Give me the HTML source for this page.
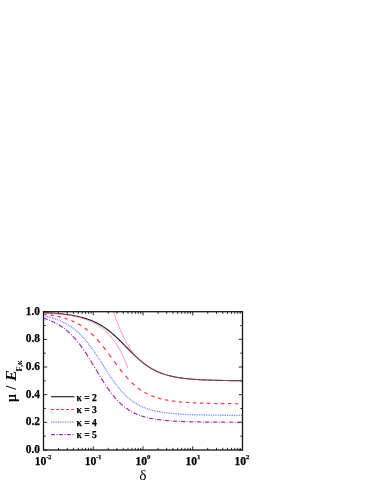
<!DOCTYPE html>
<html><head><meta charset="utf-8"><title>chart</title>
<style>
html,body{margin:0;padding:0;background:#fff;}
body{width:374px;height:484px;position:relative;overflow:hidden;font-family:"Liberation Serif",serif;color:#000;}
.t,.lg{-webkit-text-stroke:0.25px #000;}
.t{position:absolute;font-weight:bold;font-size:12px;line-height:12px;white-space:nowrap;}
.yl{text-align:right;width:30px;transform-origin:100% 50%;transform:scaleX(0.95);}
.xl{text-align:center;width:40px;transform:scaleX(0.97);}
.xl sup{font-size:7.5px;line-height:0;vertical-align:baseline;position:relative;top:-5.6px;}
.lg{position:absolute;font-weight:bold;font-size:9.6px;line-height:10px;white-space:nowrap;}
</style></head><body>
<svg width="374" height="484" viewBox="0 0 374 484" style="position:absolute;left:0;top:0">
<defs><clipPath id="c"><rect x="43.5" y="311.7" width="199.0" height="138.3"/></clipPath></defs>
<path d="M43.5,450.00h3.7M242.5,450.00h-3.7M43.5,436.17h2.15M242.5,436.17h-2.15M43.5,422.34h3.7M242.5,422.34h-3.7M43.5,408.51h2.15M242.5,408.51h-2.15M43.5,394.68h3.7M242.5,394.68h-3.7M43.5,380.85h2.15M242.5,380.85h-2.15M43.5,367.02h3.7M242.5,367.02h-3.7M43.5,353.19h2.15M242.5,353.19h-2.15M43.5,339.36h3.7M242.5,339.36h-3.7M43.5,325.53h2.15M242.5,325.53h-2.15M43.5,311.70h3.7M242.5,311.70h-3.7M43.50,450.0v-3.7M43.50,311.7v3.7M58.48,450.0v-2.15M58.48,311.7v2.15M67.24,450.0v-2.15M67.24,311.7v2.15M73.45,450.0v-2.15M73.45,311.7v2.15M78.27,450.0v-2.15M78.27,311.7v2.15M82.21,450.0v-2.15M82.21,311.7v2.15M85.54,450.0v-2.15M85.54,311.7v2.15M88.43,450.0v-2.15M88.43,311.7v2.15M90.97,450.0v-2.15M90.97,311.7v2.15M93.25,450.0v-3.7M93.25,311.7v3.7M108.23,450.0v-2.15M108.23,311.7v2.15M116.99,450.0v-2.15M116.99,311.7v2.15M123.20,450.0v-2.15M123.20,311.7v2.15M128.02,450.0v-2.15M128.02,311.7v2.15M131.96,450.0v-2.15M131.96,311.7v2.15M135.29,450.0v-2.15M135.29,311.7v2.15M138.18,450.0v-2.15M138.18,311.7v2.15M140.72,450.0v-2.15M140.72,311.7v2.15M143.00,450.0v-3.7M143.00,311.7v3.7M157.98,450.0v-2.15M157.98,311.7v2.15M166.74,450.0v-2.15M166.74,311.7v2.15M172.95,450.0v-2.15M172.95,311.7v2.15M177.77,450.0v-2.15M177.77,311.7v2.15M181.71,450.0v-2.15M181.71,311.7v2.15M185.04,450.0v-2.15M185.04,311.7v2.15M187.93,450.0v-2.15M187.93,311.7v2.15M190.47,450.0v-2.15M190.47,311.7v2.15M192.75,450.0v-3.7M192.75,311.7v3.7M207.73,450.0v-2.15M207.73,311.7v2.15M216.49,450.0v-2.15M216.49,311.7v2.15M222.70,450.0v-2.15M222.70,311.7v2.15M227.52,450.0v-2.15M227.52,311.7v2.15M231.46,450.0v-2.15M231.46,311.7v2.15M234.79,450.0v-2.15M234.79,311.7v2.15M237.68,450.0v-2.15M237.68,311.7v2.15M240.22,450.0v-2.15M240.22,311.7v2.15M242.50,450.0v-3.7M242.50,311.7v3.7" stroke="#111" stroke-width="0.9" fill="none"/>
<g clip-path="url(#c)" fill="none">
<path d="M43.50,312.66 L44.33,312.69 L45.17,312.73 L46.00,312.77 L46.83,312.82 L47.66,312.86 L48.50,312.91 L49.33,312.95 L50.16,313.00 L50.99,313.06 L51.83,313.11 L52.66,313.16 L53.49,313.22 L54.32,313.28 L55.16,313.35 L55.99,313.41 L56.82,313.48 L57.65,313.55 L58.49,313.62 L59.32,313.70 L60.15,313.78 L60.99,313.86 L61.82,313.94 L62.65,314.03 L63.48,314.13 L64.32,314.22 L65.15,314.32 L65.98,314.43 L66.81,314.53 L67.65,314.65 L68.48,314.76 L69.31,314.89 L70.14,315.01 L70.98,315.14 L71.81,315.28 L72.64,315.42 L73.47,315.57 L74.31,315.72 L75.14,315.88 L75.97,316.05 L76.81,316.22 L77.64,316.40 L78.47,316.58 L79.30,316.78 L80.14,316.98 L80.97,317.19 L81.80,317.40 L82.63,317.63 L83.47,317.86 L84.30,318.10 L85.13,318.36 L85.96,318.62 L86.80,318.89 L87.63,319.17 L88.46,319.46 L89.29,319.76 L90.13,320.08 L90.96,320.40 L91.79,320.74 L92.63,321.09 L93.46,321.45 L94.29,321.83 L95.12,322.22 L95.96,322.62 L96.79,323.03 L97.62,323.46 L98.45,323.91 L99.29,324.37 L100.12,324.84 L100.95,325.33 L101.78,325.83 L102.62,326.35 L103.45,326.89 L104.28,327.44 L105.12,328.01 L105.95,328.59 L106.78,329.19 L107.61,329.81 L108.45,330.44 L109.28,331.09 L110.11,331.75 L110.94,332.43 L111.78,333.12 L112.61,333.83 L113.44,334.55 L114.27,335.29 L115.11,336.04 L115.94,336.80 L116.77,337.57 L117.60,338.36 L118.44,339.16 L119.27,339.97 L120.10,340.78 L120.94,341.61 L121.77,342.44 L122.60,343.27 L123.43,344.12 L124.27,344.96 L125.10,345.81 L125.93,346.66 L126.76,347.52 L127.60,348.37 L128.43,349.22 L129.26,350.06 L130.09,350.91 L130.93,351.74 L131.76,352.57 L132.59,353.40 L133.42,354.21 L134.26,355.02 L135.09,355.82 L135.92,356.60 L136.76,357.38 L137.59,358.14 L138.42,358.88 L139.25,359.62 L140.09,360.34 L140.92,361.04 L141.75,361.73 L142.58,362.40 L143.42,363.05 L144.25,363.69 L145.08,364.32 L145.91,364.92 L146.75,365.51 L147.58,366.08 L148.41,366.64 L149.24,367.17 L150.08,367.69 L150.91,368.20 L151.74,368.69 L152.58,369.16 L153.41,369.61 L154.24,370.05 L155.07,370.48 L155.91,370.89 L156.74,371.28 L157.57,371.66 L158.40,372.03 L159.24,372.38 L160.07,372.72 L160.90,373.05 L161.73,373.36 L162.57,373.66 L163.40,373.95 L164.23,374.23 L165.06,374.50 L165.90,374.75 L166.73,375.00 L167.56,375.24 L168.40,375.46 L169.23,375.68 L170.06,375.89 L170.89,376.09 L171.73,376.28 L172.56,376.47 L173.39,376.65 L174.22,376.82 L175.06,376.98 L175.89,377.13 L176.72,377.28 L177.55,377.43 L178.39,377.56 L179.22,377.70 L180.05,377.82 L180.88,377.94 L181.72,378.06 L182.55,378.17 L183.38,378.28 L184.22,378.38 L185.05,378.48 L185.88,378.57 L186.71,378.66 L187.55,378.75 L188.38,378.83 L189.21,378.91 L190.04,378.99 L190.88,379.06 L191.71,379.14 L192.54,379.20 L193.37,379.27 L194.21,379.33 L195.04,379.39 L195.87,379.45 L196.71,379.50 L197.54,379.55 L198.37,379.61 L199.20,379.65 L200.04,379.70 L200.87,379.75 L201.70,379.79 L202.53,379.83 L203.37,379.87 L204.20,379.91 L205.03,379.94 L205.86,379.98 L206.70,380.01 L207.53,380.05 L208.36,380.08 L209.19,380.11 L210.03,380.14 L210.86,380.16 L211.69,380.19 L212.53,380.22 L213.36,380.24 L214.19,380.26 L215.02,380.29 L215.86,380.31 L216.69,380.33 L217.52,380.35 L218.35,380.37 L219.19,380.39 L220.02,380.40 L220.85,380.42 L221.68,380.44 L222.52,380.45 L223.35,380.47 L224.18,380.48 L225.01,380.50 L225.85,380.51 L226.68,380.52 L227.51,380.54 L228.35,380.55 L229.18,380.56 L230.01,380.57 L230.84,380.58 L231.68,380.59 L232.51,380.60 L233.34,380.61 L234.17,380.62 L235.01,380.63 L235.84,380.64 L236.67,380.65 L237.50,380.65 L238.34,380.66 L239.17,380.67 L240.00,380.67 L240.83,380.68 L241.67,380.69 L242.50,380.69" stroke="#222222" stroke-width="1.15"/>
<path d="M43.50,314.12 L43.98,314.18 L44.47,314.24 L44.95,314.29 L45.44,314.35 L45.92,314.41 L46.41,314.48 L46.89,314.54M50.48,315.06 L50.96,315.13 L51.45,315.21 L51.93,315.29 L52.42,315.38 L52.90,315.46 L53.38,315.55 L53.87,315.63M57.44,316.35 L57.93,316.46 L58.41,316.56 L58.89,316.68 L59.37,316.79 L59.85,316.90 L60.33,317.02 L60.81,317.14M64.37,318.13 L64.85,318.27 L65.33,318.42 L65.81,318.57 L66.29,318.73 L66.76,318.89 L67.24,319.05 L67.72,319.21M71.24,320.55 L71.71,320.75 L72.19,320.95 L72.66,321.15 L73.13,321.36 L73.60,321.57 L74.07,321.79 L74.54,322.01M78.00,323.79 L78.47,324.05 L78.93,324.31 L79.39,324.58 L79.86,324.85 L80.32,325.13 L80.78,325.41 L81.23,325.70M84.60,327.99 L85.05,328.32 L85.50,328.65 L85.95,328.99 L86.39,329.33 L86.84,329.68 L87.28,330.04 L87.73,330.40M90.97,333.21 L91.40,333.61 L91.83,334.01 L92.26,334.42 L92.69,334.83 L93.12,335.25 L93.54,335.67 L93.97,336.09M97.07,339.37 L97.49,339.83 L97.90,340.29 L98.31,340.76 L98.72,341.23 L99.13,341.70 L99.54,342.18 L99.94,342.66M102.92,346.30 L103.32,346.80 L103.72,347.30 L104.11,347.81 L104.51,348.32 L104.90,348.83 L105.29,349.34 L105.69,349.85M108.58,353.71 L108.97,354.23 L109.36,354.76 L109.74,355.29 L110.13,355.81 L110.52,356.34 L110.91,356.87 L111.29,357.40M114.16,361.32 L114.54,361.85 L114.93,362.38 L115.32,362.91 L115.71,363.43 L116.09,363.96 L116.48,364.48 L116.87,365.01M119.77,368.85 L120.17,369.36 L120.56,369.87 L120.96,370.37 L121.35,370.88 L121.75,371.38 L122.15,371.88 L122.55,372.38M125.54,375.97 L125.95,376.44 L126.36,376.91 L126.77,377.38 L127.19,377.84 L127.60,378.30 L128.02,378.75 L128.43,379.20M131.56,382.40 L131.99,382.81 L132.42,383.22 L132.85,383.62 L133.28,384.02 L133.72,384.41 L134.15,384.80 L134.59,385.19M137.87,387.87 L138.32,388.21 L138.76,388.54 L139.21,388.87 L139.67,389.19 L140.12,389.51 L140.57,389.82 L141.03,390.13M144.43,392.24 L144.89,392.51 L145.36,392.76 L145.82,393.02 L146.29,393.26 L146.75,393.51 L147.22,393.74 L147.69,393.98M151.18,395.56 L151.65,395.75 L152.13,395.94 L152.60,396.13 L153.08,396.31 L153.55,396.49 L154.03,396.66 L154.51,396.83M158.05,397.98 L158.53,398.12 L159.01,398.25 L159.49,398.39 L159.97,398.52 L160.45,398.65 L160.93,398.77 L161.41,398.89M164.98,399.70 L165.46,399.80 L165.95,399.90 L166.43,399.99 L166.91,400.08 L167.40,400.17 L167.88,400.26 L168.36,400.35M171.95,400.92 L172.43,400.99 L172.92,401.06 L173.40,401.12 L173.89,401.19 L174.37,401.25 L174.85,401.31 L175.34,401.38M178.93,401.78 L179.42,401.83 L179.90,401.88 L180.39,401.92 L180.87,401.97 L181.36,402.01 L181.84,402.06 L182.33,402.10M185.92,402.39 L186.41,402.42 L186.89,402.45 L187.38,402.49 L187.87,402.52 L188.35,402.55 L188.84,402.58 L189.32,402.61M192.92,402.82 L193.41,402.84 L193.89,402.86 L194.38,402.89 L194.86,402.91 L195.35,402.93 L195.83,402.96 L196.32,402.98M199.92,403.12 L200.40,403.14 L200.89,403.16 L201.37,403.17 L201.86,403.19 L202.35,403.21 L202.83,403.22 L203.32,403.24M206.92,403.34 L207.40,403.35 L207.89,403.37 L208.37,403.38 L208.86,403.39 L209.35,403.40 L209.83,403.41 L210.32,403.42M213.92,403.50 L214.40,403.51 L214.89,403.51 L215.37,403.52 L215.86,403.53 L216.34,403.54 L216.83,403.55 L217.32,403.56M220.92,403.61 L221.40,403.62 L221.89,403.62 L222.37,403.63 L222.86,403.63 L223.34,403.64 L223.83,403.65 L224.32,403.65M227.92,403.69 L228.40,403.69 L228.89,403.70 L229.37,403.70 L229.86,403.71 L230.34,403.71 L230.83,403.72 L231.32,403.72M234.92,403.75 L235.40,403.75 L235.89,403.76 L236.37,403.76 L236.86,403.76 L237.34,403.76 L237.83,403.77 L238.32,403.77M241.92,403.79 L242.21,403.79 L242.50,403.79" stroke="#ff3434" stroke-width="1.2"/>
<path d="M43.50,315.83 L44.33,316.00 L45.17,316.17 L46.00,316.35 L46.83,316.53 L47.66,316.73 L48.50,316.93 L49.33,317.14 L50.16,317.35 L50.99,317.58 L51.83,317.81 L52.66,318.06 L53.49,318.31 L54.32,318.58 L55.16,318.85 L55.99,319.14 L56.82,319.43 L57.65,319.74 L58.49,320.06 L59.32,320.39 L60.15,320.74 L60.99,321.10 L61.82,321.47 L62.65,321.86 L63.48,322.27 L64.32,322.69 L65.15,323.12 L65.98,323.57 L66.81,324.04 L67.65,324.53 L68.48,325.03 L69.31,325.55 L70.14,326.10 L70.98,326.66 L71.81,327.24 L72.64,327.84 L73.47,328.47 L74.31,329.11 L75.14,329.78 L75.97,330.47 L76.81,331.19 L77.64,331.93 L78.47,332.69 L79.30,333.47 L80.14,334.28 L80.97,335.12 L81.80,335.98 L82.63,336.87 L83.47,337.78 L84.30,338.71 L85.13,339.67 L85.96,340.66 L86.80,341.67 L87.63,342.70 L88.46,343.76 L89.29,344.84 L90.13,345.95 L90.96,347.07 L91.79,348.22 L92.63,349.39 L93.46,350.58 L94.29,351.78 L95.12,353.00 L95.96,354.24 L96.79,355.50 L97.62,356.76 L98.45,358.04 L99.29,359.32 L100.12,360.62 L100.95,361.92 L101.78,363.22 L102.62,364.53 L103.45,365.84 L104.28,367.15 L105.12,368.45 L105.95,369.75 L106.78,371.05 L107.61,372.33 L108.45,373.61 L109.28,374.87 L110.11,376.12 L110.94,377.35 L111.78,378.57 L112.61,379.77 L113.44,380.95 L114.27,382.11 L115.11,383.25 L115.94,384.36 L116.77,385.45 L117.60,386.52 L118.44,387.56 L119.27,388.58 L120.10,389.57 L120.94,390.54 L121.77,391.47 L122.60,392.38 L123.43,393.27 L124.27,394.13 L125.10,394.96 L125.93,395.76 L126.76,396.54 L127.60,397.29 L128.43,398.01 L129.26,398.71 L130.09,399.39 L130.93,400.04 L131.76,400.67 L132.59,401.27 L133.42,401.85 L134.26,402.41 L135.09,402.95 L135.92,403.46 L136.76,403.96 L137.59,404.43 L138.42,404.89 L139.25,405.33 L140.09,405.75 L140.92,406.15 L141.75,406.54 L142.58,406.91 L143.42,407.26 L144.25,407.60 L145.08,407.93 L145.91,408.24 L146.75,408.54 L147.58,408.82 L148.41,409.10 L149.24,409.36 L150.08,409.61 L150.91,409.85 L151.74,410.08 L152.58,410.30 L153.41,410.51 L154.24,410.72 L155.07,410.91 L155.91,411.10 L156.74,411.27 L157.57,411.44 L158.40,411.61 L159.24,411.76 L160.07,411.91 L160.90,412.05 L161.73,412.19 L162.57,412.32 L163.40,412.45 L164.23,412.57 L165.06,412.68 L165.90,412.79 L166.73,412.90 L167.56,413.00 L168.40,413.10 L169.23,413.19 L170.06,413.28 L170.89,413.36 L171.73,413.45 L172.56,413.53 L173.39,413.60 L174.22,413.67 L175.06,413.74 L175.89,413.81 L176.72,413.87 L177.55,413.93 L178.39,413.99 L179.22,414.05 L180.05,414.10 L180.88,414.16 L181.72,414.20 L182.55,414.25 L183.38,414.30 L184.22,414.34 L185.05,414.38 L185.88,414.43 L186.71,414.46 L187.55,414.50 L188.38,414.54 L189.21,414.57 L190.04,414.60 L190.88,414.64 L191.71,414.67 L192.54,414.70 L193.37,414.72 L194.21,414.75 L195.04,414.78 L195.87,414.80 L196.71,414.83 L197.54,414.85 L198.37,414.87 L199.20,414.89 L200.04,414.91 L200.87,414.93 L201.70,414.95 L202.53,414.97 L203.37,414.99 L204.20,415.00 L205.03,415.02 L205.86,415.04 L206.70,415.05 L207.53,415.07 L208.36,415.08 L209.19,415.09 L210.03,415.11 L210.86,415.12 L211.69,415.13 L212.53,415.14 L213.36,415.15 L214.19,415.16 L215.02,415.17 L215.86,415.18 L216.69,415.19 L217.52,415.20 L218.35,415.21 L219.19,415.22 L220.02,415.22 L220.85,415.23 L221.68,415.24 L222.52,415.25 L223.35,415.25 L224.18,415.26 L225.01,415.27 L225.85,415.27 L226.68,415.28 L227.51,415.28 L228.35,415.29 L229.18,415.29 L230.01,415.30 L230.84,415.30 L231.68,415.31 L232.51,415.31 L233.34,415.32 L234.17,415.32 L235.01,415.33 L235.84,415.33 L236.67,415.33 L237.50,415.34 L238.34,415.34 L239.17,415.34 L240.00,415.35 L240.83,415.35 L241.67,415.35 L242.50,415.35" stroke="#5c6cff" stroke-width="1.3" stroke-dasharray="0.8,0.95"/>
<path d="M43.50,318.17 L43.97,318.31 L44.44,318.46 L44.90,318.60 L45.37,318.76 L45.84,318.91 L46.30,319.07 L46.77,319.23 L47.23,319.39 L47.70,319.56M49.10,320.09 L49.49,320.24 L49.88,320.40M51.27,320.98 L51.73,321.18 L52.19,321.38 L52.65,321.59 L53.11,321.80 L53.56,322.02 L54.02,322.24 L54.47,322.46 L54.92,322.69 L55.38,322.92M56.74,323.65 L57.12,323.86 L57.49,324.07M58.84,324.86 L59.28,325.13 L59.73,325.40 L60.17,325.68 L60.61,325.96 L61.04,326.25 L61.48,326.54 L61.91,326.84 L62.35,327.14 L62.78,327.44M64.08,328.40 L64.44,328.67 L64.80,328.94M66.08,329.96 L66.50,330.31 L66.91,330.66 L67.33,331.01 L67.74,331.37 L68.15,331.73 L68.56,332.10 L68.97,332.47 L69.38,332.85 L69.79,333.23M71.00,334.40 L71.34,334.73 L71.67,335.07M72.86,336.30 L73.25,336.72 L73.64,337.14 L74.03,337.56 L74.41,337.99 L74.79,338.41 L75.17,338.85 L75.55,339.28 L75.93,339.72 L76.31,340.17M77.44,341.53 L77.74,341.91 L78.05,342.30M79.16,343.70 L79.52,344.17 L79.88,344.64 L80.24,345.12 L80.59,345.60 L80.95,346.08 L81.30,346.56 L81.65,347.04 L82.00,347.53 L82.35,348.02M83.40,349.52 L83.69,349.93 L83.98,350.35M85.01,351.88 L85.35,352.38 L85.69,352.89 L86.02,353.40 L86.36,353.91 L86.69,354.42 L87.03,354.94 L87.36,355.45 L87.69,355.97 L88.02,356.49M89.02,358.07 L89.29,358.51 L89.56,358.94M90.55,360.54 L90.87,361.06 L91.20,361.59 L91.52,362.12 L91.84,362.65 L92.16,363.18 L92.49,363.71 L92.81,364.24 L93.13,364.77 L93.45,365.30M94.42,366.92 L94.69,367.36 L94.95,367.81M95.92,369.43 L96.24,369.96 L96.56,370.49 L96.88,371.03 L97.20,371.56 L97.52,372.09 L97.84,372.62 L98.16,373.15 L98.48,373.69 L98.80,374.22M99.78,375.83 L100.05,376.27 L100.32,376.71M101.30,378.31 L101.63,378.84 L101.95,379.36 L102.28,379.88 L102.61,380.40 L102.93,380.93 L103.26,381.45 L103.59,381.96 L103.92,382.48 L104.25,383.00M105.27,384.56 L105.55,384.98 L105.83,385.41M106.86,386.94 L107.20,387.44 L107.54,387.94 L107.89,388.44 L108.23,388.94 L108.58,389.43 L108.93,389.92 L109.28,390.41 L109.63,390.89 L109.98,391.38M111.06,392.83 L111.36,393.22 L111.66,393.62M112.77,395.03 L113.13,395.49 L113.50,395.94 L113.87,396.39 L114.25,396.84 L114.62,397.29 L115.00,397.73 L115.38,398.16 L115.76,398.60 L116.14,399.03M117.31,400.31 L117.64,400.65 L117.97,401.00M119.17,402.22 L119.57,402.61 L119.97,403.00 L120.37,403.38 L120.78,403.76 L121.18,404.13 L121.59,404.50 L122.01,404.87 L122.42,405.23 L122.83,405.58M124.10,406.63 L124.46,406.91 L124.81,407.19M126.11,408.16 L126.54,408.47 L126.97,408.77 L127.41,409.07 L127.84,409.37 L128.28,409.66 L128.72,409.94 L129.16,410.22 L129.60,410.49 L130.04,410.76M131.39,411.55 L131.77,411.76 L132.15,411.96M133.52,412.68 L133.97,412.90 L134.42,413.12 L134.88,413.34 L135.34,413.55 L135.79,413.76 L136.25,413.96 L136.71,414.16 L137.17,414.35 L137.63,414.54M139.03,415.09 L139.42,415.23 L139.81,415.38M141.22,415.87 L141.69,416.02 L142.16,416.17 L142.62,416.32 L143.09,416.47 L143.56,416.61 L144.03,416.74 L144.50,416.88 L144.97,417.01 L145.44,417.14M146.87,417.50 L147.26,417.60 L147.66,417.70M149.09,418.02 L149.56,418.13 L150.04,418.23 L150.51,418.33 L150.98,418.42 L151.46,418.52 L151.93,418.61 L152.41,418.69 L152.88,418.78 L153.35,418.87M154.80,419.11 L155.19,419.17 L155.59,419.24M157.03,419.45 L157.51,419.52 L157.99,419.59 L158.46,419.65 L158.94,419.72 L159.41,419.78 L159.89,419.84 L160.37,419.90 L160.84,419.95 L161.32,420.01M162.76,420.17 L163.16,420.21 L163.56,420.25M165.01,420.40 L165.49,420.44 L165.96,420.49 L166.44,420.53 L166.92,420.57 L167.39,420.61 L167.87,420.65 L168.35,420.69 L168.82,420.73 L169.30,420.77M170.75,420.87 L171.15,420.90 L171.55,420.93M173.00,421.03 L173.47,421.06 L173.95,421.09 L174.43,421.11 L174.91,421.14 L175.38,421.17 L175.86,421.20 L176.34,421.22 L176.82,421.25 L177.29,421.27M178.74,421.34 L179.14,421.36 L179.54,421.38M180.99,421.45 L181.47,421.47 L181.95,421.49 L182.43,421.50 L182.90,421.52 L183.38,421.54 L183.86,421.56 L184.34,421.58 L184.81,421.59 L185.29,421.61M186.74,421.66 L187.14,421.67 L187.54,421.69M188.99,421.73 L189.47,421.74 L189.95,421.76 L190.42,421.77 L190.90,421.78 L191.38,421.79 L191.86,421.81 L192.33,421.82 L192.81,421.83 L193.29,421.84M194.74,421.87 L195.14,421.88 L195.54,421.89M196.99,421.92 L197.47,421.93 L197.94,421.94 L198.42,421.95 L198.90,421.96 L199.38,421.97 L199.86,421.97 L200.33,421.98 L200.81,421.99 L201.29,422.00M202.74,422.02 L203.14,422.03 L203.54,422.03M204.99,422.05 L205.47,422.06 L205.94,422.07 L206.42,422.07 L206.90,422.08 L207.38,422.08 L207.86,422.09 L208.33,422.09 L208.81,422.10 L209.29,422.10M210.74,422.12 L211.14,422.12 L211.54,422.13M212.99,422.14 L213.47,422.15 L213.94,422.15 L214.42,422.16 L214.90,422.16 L215.38,422.16 L215.86,422.17 L216.33,422.17 L216.81,422.17 L217.29,422.18M218.74,422.19 L219.14,422.19 L219.54,422.19M220.99,422.20 L221.47,422.21 L221.94,422.21 L222.42,422.21 L222.90,422.22 L223.38,422.22 L223.86,422.22 L224.33,422.22 L224.81,422.23 L225.29,422.23M226.74,422.24 L227.14,422.24 L227.54,422.24M228.99,422.25 L229.47,422.25 L229.94,422.25 L230.42,422.25 L230.90,422.25 L231.38,422.26 L231.85,422.26 L232.33,422.26 L232.81,422.26 L233.29,422.26M234.74,422.27 L235.14,422.27 L235.54,422.27M236.99,422.28 L237.47,422.28 L237.94,422.28 L238.42,422.28 L238.90,422.28 L239.38,422.28 L239.85,422.28 L240.33,422.28 L240.81,422.29 L241.29,422.29" stroke="#9c32aa" stroke-width="1.2"/>
<path d="M43.50,312.78 L44.21,312.82 L44.92,312.86 L45.63,312.90 L46.34,312.94 L47.05,312.98 L47.76,313.02 L48.47,313.06 L49.18,313.11 L49.89,313.16 L50.60,313.21 L51.31,313.26 L52.02,313.31 L52.73,313.36 L53.44,313.42 L54.15,313.47 L54.86,313.53 L55.57,313.60 L56.29,313.66 L57.00,313.72 L57.71,313.79 L58.42,313.86 L59.13,313.93 L59.84,314.01 L60.55,314.09 L61.26,314.17 L61.97,314.25 L62.68,314.34 L63.39,314.42 L64.10,314.51 L64.81,314.61 L65.52,314.71 L66.23,314.81 L66.94,314.91 L67.65,315.02 L68.36,315.13 L69.07,315.25 L69.78,315.36 L70.49,315.49 L71.20,315.61 L71.91,315.75 L72.62,315.88 L73.33,316.02 L74.04,316.17 L74.75,316.32 L75.46,316.47 L76.17,316.63 L76.88,316.80 L77.59,316.97 L78.30,317.14 L79.01,317.33 L79.72,317.52 L80.43,317.71 L81.15,317.91 L81.86,318.12 L82.57,318.34 L83.28,318.56 L83.99,318.79 L84.70,319.03 L85.41,319.28 L86.12,319.53 L86.83,319.80 L87.54,320.07 L88.25,320.35 L88.96,320.64 L89.67,320.94 L90.38,321.25 L91.09,321.58 L91.80,321.91 L92.51,322.25 L93.22,322.61 L93.93,322.98 L94.64,323.36 L95.35,323.75 L96.06,324.16 L96.77,324.58 L97.48,325.02 L98.19,325.47 L98.90,325.93 L99.61,326.41 L100.32,326.91 L101.03,327.43 L101.74,327.96 L102.45,328.51 L103.16,329.08 L103.87,329.67 L104.58,330.28 L105.29,330.91 L106.00,331.57 L106.72,332.24 L107.43,332.94 L108.14,333.66 L108.85,334.41 L109.56,335.19 L110.27,335.99 L110.98,336.81 L111.69,337.67 L112.40,338.56 L113.11,339.48 L113.82,340.43 L114.53,341.41 L115.24,342.43 L115.95,343.49 L116.66,344.58 L117.37,345.71 L118.08,346.88 L118.79,348.09 L119.50,349.34 L120.21,350.64 L120.92,351.99 L121.63,353.38 L122.34,354.82 L123.05,356.31 L123.76,357.86 L124.47,359.46 L125.18,361.13 L125.89,362.85 L126.60,364.63 L127.31,366.48 L128.02,368.39" stroke="#ff5aaa" stroke-width="0.7"/>
<path d="M108.23,291.85 L108.48,292.88 L108.73,293.90 L108.98,294.91 L109.23,295.91 L109.48,296.89 L109.74,297.86 L109.99,298.82 L110.24,299.77 L110.49,300.71 L110.74,301.64 L110.99,302.56 L111.25,303.46 L111.50,304.36 L111.75,305.25 L112.00,306.12 L112.25,306.99 L112.51,307.84 L112.76,308.69 L113.01,309.52 L113.26,310.35 L113.51,311.17 L113.76,311.97 L114.02,312.77 L114.27,313.56 L114.52,314.34 L114.77,315.11 L115.02,315.87 L115.27,316.62 L115.53,317.37 L115.78,318.10 L116.03,318.83 L116.28,319.55 L116.53,320.26 L116.78,320.96 L117.04,321.65 L117.29,322.34 L117.54,323.02 L117.79,323.69 L118.04,324.35 L118.29,325.00 L118.55,325.65 L118.80,326.29 L119.05,326.92 L119.30,327.55 L119.55,328.16 L119.80,328.77 L120.06,329.38 L120.31,329.97 L120.56,330.56 L120.81,331.14 L121.06,331.72 L121.31,332.29 L121.57,332.85 L121.82,333.41 L122.07,333.96 L122.32,334.50 L122.57,335.04 L122.82,335.57 L123.08,336.09 L123.33,336.61 L123.58,337.12 L123.83,337.63 L124.08,338.13 L124.34,338.62 L124.59,339.11 L124.84,339.60 L125.09,340.07 L125.34,340.55 L125.59,341.01 L125.85,341.48 L126.10,341.93 L126.35,342.38 L126.60,342.83 L126.85,343.27 L127.10,343.70 L127.36,344.13 L127.61,344.56 L127.86,344.98 L128.11,345.39 L128.36,345.81 L128.61,346.22 L128.87,346.63 L129.12,347.04 L129.37,347.45 L129.62,347.85 L129.87,348.25 L130.12,348.65 L130.38,349.04 L130.63,349.43 L130.88,349.81 L131.13,350.19 L131.38,350.56 L131.63,350.93 L131.89,351.29 L132.14,351.65 L132.39,352.00 L132.64,352.34 L132.89,352.68 L133.14,353.02 L133.40,353.35 L133.65,353.67 L133.90,353.99 L134.15,354.30 L134.40,354.61 L134.65,354.91 L134.91,355.21 L135.16,355.50 L135.41,355.78 L135.66,356.07 L135.91,356.34 L136.17,356.62 L136.42,356.88 L136.67,357.15 L136.92,357.41 L137.17,357.66 L137.42,357.91 L137.68,358.16 L137.93,358.40 L138.18,358.64" stroke="#ff5aaa" stroke-width="0.7"/>
<path d="M138.18,358.64 L139.06,359.46 L139.93,360.23 L140.81,360.98 L141.69,361.70 L142.56,362.40 L143.44,363.08 L144.32,363.75 L145.19,364.40 L146.07,365.03 L146.95,365.65 L147.82,366.24 L148.70,366.82 L149.58,367.38 L150.45,367.92 L151.33,368.45 L152.21,368.95 L153.08,369.44 L153.96,369.91 L154.84,370.36 L155.71,370.79 L156.59,371.21 L157.47,371.61 L158.34,372.00 L159.22,372.37 L160.09,372.73 L160.97,373.07 L161.85,373.40 L162.72,373.72 L163.60,374.02 L164.48,374.31 L165.35,374.59 L166.23,374.85 L167.11,375.11 L167.98,375.35 L168.86,375.59 L169.74,375.81 L170.61,376.03 L171.49,376.23 L172.37,376.43 L173.24,376.61 L174.12,376.79 L175.00,376.97 L175.87,377.13 L176.75,377.29 L177.63,377.44 L178.50,377.58 L179.38,377.72 L180.26,377.85 L181.13,377.98 L182.01,378.10 L182.89,378.22 L183.76,378.33 L184.64,378.43 L185.52,378.53 L186.39,378.63 L187.27,378.72 L188.15,378.81 L189.02,378.90 L189.90,378.98 L190.78,379.06 L191.65,379.13 L192.53,379.20 L193.41,379.27 L194.28,379.34 L195.16,379.40 L196.04,379.46 L196.91,379.52 L197.79,379.57 L198.67,379.62 L199.54,379.67 L200.42,379.72 L201.30,379.77 L202.17,379.81 L203.05,379.85 L203.93,379.90 L204.80,379.93 L205.68,379.97 L206.56,380.01 L207.43,380.04 L208.31,380.07 L209.19,380.11 L210.06,380.14 L210.94,380.17 L211.82,380.19 L212.69,380.22 L213.57,380.25 L214.45,380.27 L215.32,380.29 L216.20,380.32 L217.08,380.34 L217.95,380.36 L218.83,380.38 L219.71,380.40 L220.58,380.42 L221.46,380.43 L222.34,380.45 L223.21,380.47 L224.09,380.48 L224.97,380.50 L225.84,380.51 L226.72,380.52 L227.60,380.54 L228.47,380.55 L229.35,380.56 L230.23,380.57 L231.10,380.58 L231.98,380.60 L232.86,380.61 L233.73,380.62 L234.61,380.62 L235.49,380.63 L236.36,380.64 L237.24,380.65 L238.12,380.66 L238.99,380.67 L239.87,380.67 L240.75,380.68 L241.62,380.69 L242.50,380.69" stroke="#ff5aaa" stroke-width="0.55"/>
</g>
<rect x="43.5" y="311.7" width="199.0" height="138.3" fill="none" stroke="#151515" stroke-width="1.3"/>
<path d="M51.1,396.7H74.3" stroke="#222222" stroke-width="1.15" fill="none"/>
<path d="M51.1,409.5H74.3" stroke="#ff3434" stroke-width="1.2" stroke-dasharray="3.0,2.0" fill="none"/>
<path d="M51.1,422.1H74.3" stroke="#5c6cff" stroke-width="1.3" stroke-dasharray="0.8,0.95" fill="none"/>
<path d="M51.1,434.6H74.3" stroke="#9c32aa" stroke-width="1.2" stroke-dasharray="3.8,1.6,1,1.6" fill="none"/>
</svg>
<div id="tx" style="position:absolute;left:0;top:0;width:374px;height:484px;will-change:transform;opacity:0.999">
<div class="t yl" style="left:9.5px;top:442.90px">0.0</div>
<div class="t yl" style="left:9.5px;top:415.24px">0.2</div>
<div class="t yl" style="left:9.5px;top:387.58px">0.4</div>
<div class="t yl" style="left:9.5px;top:359.92px">0.6</div>
<div class="t yl" style="left:9.5px;top:332.26px">0.8</div>
<div class="t yl" style="left:9.5px;top:304.60px">1.0</div>
<div class="t xl" style="left:23.3px;top:455.1px">10<sup style="font-size:6.3px;top:-6.1px">-2</sup></div>
<div class="t xl" style="left:73.0px;top:455.1px">10<sup style="font-size:6.3px;top:-6.1px">-1</sup></div>
<div class="t xl" style="left:122.8px;top:455.1px">10<sup style="font-size:7.0px;top:-5.7px">0</sup></div>
<div class="t xl" style="left:172.6px;top:455.1px">10<sup style="font-size:7.0px;top:-5.7px">1</sup></div>
<div class="t xl" style="left:222.3px;top:455.1px">10<sup style="font-size:7.0px;top:-5.7px">2</sup></div>
<div class="lg" style="left:76.5px;top:392.5px">&kappa; = 2</div>
<div class="lg" style="left:76.5px;top:405.3px">&kappa; = 3</div>
<div class="lg" style="left:76.5px;top:417.9px">&kappa; = 4</div>
<div class="lg" style="left:76.5px;top:430.4px">&kappa; = 5</div>
<div style="position:absolute;left:122.8px;top:469.4px;width:40px;text-align:center;font-size:14px;line-height:14px;transform:scaleX(1.1);">&delta;</div>
<div style="position:absolute;left:17.1px;top:401.8px;transform-origin:0 0;transform:rotate(-90deg);font-weight:bold;font-size:14px;line-height:14px;white-space:nowrap;height:0;"><span style="position:absolute;left:0;bottom:-3px;word-spacing:1px;">&mu; / <i style="display:inline-block;transform-origin:0 50%;transform:scaleX(1.15)">E</i><span style="font-size:8.5px;position:relative;top:5.8px;left:0.4px;word-spacing:0">F,&kappa;</span></span></div>
</div>
</body></html>
